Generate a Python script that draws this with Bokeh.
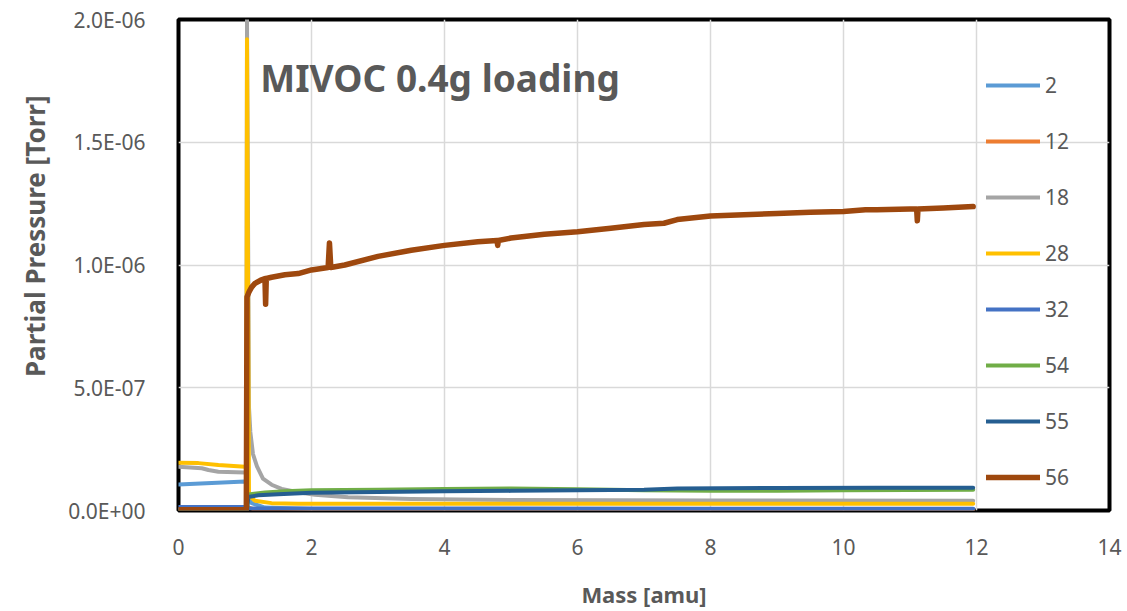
from bokeh.plotting import figure
from bokeh.models import Range1d, FixedTicker, Legend, LegendItem, Label, Title
from bokeh.embed import file_html
from bokeh.resources import INLINE

# ---- data (partial pressure in Torr vs. mass axis) ----
series_names = ["2", "12", "18", "28", "32", "54", "55", "56"]
series_colors = ["#5B9BD5", "#ED7D31", "#A5A5A5", "#FFC000",
                 "#4472C4", "#70AD47", "#255E91", "#9E480E"]

x_m2 = [0.0, 0.5, 1.0, 1.02, 1.05, 1.1, 1.3, 2.0, 6.0, 11.95]
y_m2 = [1.06e-7, 1.12e-7, 1.18e-7, 1.18e-7, 5.0e-8, 3.0e-8, 1.2e-8, 6e-9, 6e-9, 6e-9]

x_m12 = [0.0, 1.0, 1.03, 1.06, 1.12, 4.0, 11.95]
y_m12 = [3e-9, 3e-9, 3e-9, 1.2e-8, 6e-9, 3e-9, 3e-9]

x_m18 = [0.0, 0.35, 0.45, 0.6, 1.0, 1.02, 1.03, 1.06, 1.08, 1.12, 1.18,
         1.27, 1.4, 1.55, 1.8, 2.05, 2.55, 3.5, 5.0, 8.0, 11.95]
y_m18 = [1.78e-7, 1.72e-7, 1.65e-7, 1.58e-7, 1.55e-7, 1.55e-7, 2.0e-6, 4.2e-7,
         3.2e-7, 2.3e-7, 1.8e-7, 1.3e-7, 1.05e-7, 8.8e-8, 7.4e-8, 6.4e-8,
         5.4e-8, 4.7e-8, 4.3e-8, 4.1e-8, 4.0e-8]

x_m28 = [0.0, 0.3, 0.6, 1.0, 1.02, 1.03, 1.06, 1.15, 1.4, 1.8, 3.0, 6.0, 9.0, 11.95]
y_m28 = [1.95e-7, 1.93e-7, 1.85e-7, 1.78e-7, 1.78e-7, 1.92e-6, 6.0e-8, 4.0e-8,
         3.0e-8, 2.8e-8, 2.8e-8, 2.8e-8, 2.7e-8, 2.8e-8]

x_m32 = [0.0, 1.0, 1.03, 4.0, 8.0, 11.95]
y_m32 = [1.4e-8, 1.4e-8, 8e-9, 8e-9, 7e-9, 7e-9]

x_m54 = [0.0, 1.0, 1.03, 1.05, 1.3, 1.6, 2.0, 3.0, 4.0, 5.0, 6.0, 7.0, 8.0,
         9.0, 10.0, 11.95]
y_m54 = [2e-9, 2e-9, 2e-9, 6.5e-8, 7.3e-8, 7.8e-8, 8.2e-8, 8.5e-8, 8.8e-8,
         9.0e-8, 8.7e-8, 8.2e-8, 8.0e-8, 8.0e-8, 8.2e-8, 8.5e-8]

x_m55 = [0.0, 1.0, 1.03, 1.05, 1.2, 1.5, 2.0, 3.0, 4.0, 5.0, 6.0, 7.0, 7.5,
         9.0, 10.5, 11.95]
y_m55 = [2e-9, 2e-9, 2e-9, 5.5e-8, 6.2e-8, 6.6e-8, 7.2e-8, 7.5e-8, 7.8e-8,
         8.0e-8, 8.2e-8, 8.5e-8, 9.0e-8, 9.2e-8, 9.3e-8, 9.3e-8]

x_m56 = [0.0, 1.0, 1.02, 1.03, 1.06, 1.1, 1.15, 1.25, 1.3, 1.31, 1.32, 1.4,
         1.6, 1.8, 2.0, 2.25, 2.27, 2.29, 2.5, 3.0, 3.5, 4.0, 4.5, 4.79, 4.8,
         4.81, 5.0, 5.5, 6.0, 6.5, 7.0, 7.3, 7.5, 8.0, 8.5, 9.0, 9.5, 10.0,
         10.33, 10.5, 11.0, 11.1, 11.11, 11.12, 11.5, 11.95]
y_m56 = [3e-9, 3e-9, 3e-9, 8.7e-7, 8.9e-7, 9.1e-7, 9.25e-7, 9.4e-7, 9.45e-7,
         8.4e-7, 9.45e-7, 9.5e-7, 9.6e-7, 9.65e-7, 9.8e-7, 9.9e-7, 1.09e-6,
         9.9e-7, 1.0e-6, 1.035e-6, 1.06e-6, 1.08e-6, 1.095e-6, 1.1e-6, 1.08e-6,
         1.1e-6, 1.11e-6, 1.125e-6, 1.135e-6, 1.15e-6, 1.165e-6, 1.17e-6,
         1.185e-6, 1.2e-6, 1.205e-6, 1.21e-6, 1.215e-6, 1.218e-6, 1.225e-6,
         1.225e-6, 1.228e-6, 1.228e-6, 1.18e-6, 1.228e-6, 1.232e-6, 1.238e-6]

series_x = [x_m2, x_m12, x_m18, x_m28, x_m32, x_m54, x_m55, x_m56]
series_y = [y_m2, y_m12, y_m18, y_m28, y_m32, y_m54, y_m55, y_m56]

x_ticks = [0, 2, 4, 6, 8, 10, 12, 14]
y_ticks = [0.0, 5e-7, 1e-6, 1.5e-6, 2e-6]
y_tick_labels = ["0.0E+00", "5.0E-07", "1.0E-06", "1.5E-06", "2.0E-06"]

chart_title = "MIVOC 0.4g loading"
x_title = "Mass [amu]"
y_title = "Partial Pressure [Torr]"

FONT = "Noto Sans"
TEXT_GRAY = "#595959"

p = figure(width=1127, height=611, output_backend="svg", toolbar_location=None,
           x_range=Range1d(0, 14), y_range=Range1d(0, 2e-6))
p.min_border_left = 178
p.min_border_right = 18
p.min_border_top = 19
p.min_border_bottom = 100
p.background_fill_color = "white"
p.border_fill_color = "white"
p.outline_line_color = "black"
p.outline_line_width = 4

renderers = []
for name, color, xs, ys in zip(series_names, series_colors, series_x, series_y):
    lw = 5.5 if name == "56" else 4
    r = p.line(xs, ys, line_color=color, line_width=lw,
               line_join="round", line_cap="round")
    renderers.append(r)

# axes
p.xaxis.ticker = FixedTicker(ticks=x_ticks)
p.yaxis.ticker = FixedTicker(ticks=y_ticks)
p.yaxis.major_label_overrides = {t: s for t, s in zip(y_ticks, y_tick_labels)}
for ax in (p.xaxis[0], p.yaxis[0]):
    ax.axis_line_color = None
    ax.major_tick_line_color = None
    ax.minor_tick_line_color = None
    ax.major_label_text_font = FONT
    ax.major_label_text_font_size = "21px"
    ax.major_label_text_color = TEXT_GRAY
    ax.axis_label_text_font = FONT
    ax.axis_label_text_font_style = "bold"
    ax.axis_label_text_color = TEXT_GRAY
p.xaxis.axis_label = x_title
p.xaxis.axis_label_text_font_size = "22px"
p.xaxis.major_label_standoff = 22
p.xaxis.axis_label_standoff = 21
p.yaxis.major_label_standoff = 27

# y-axis title, set a little above the middle of the plotting area
p.add_layout(Title(text=y_title, align="right", offset=76, standoff=26,
                   text_font=FONT, text_font_size="26px",
                   text_font_style="bold", text_color=TEXT_GRAY), "left")

p.xgrid.ticker = FixedTicker(ticks=x_ticks)
p.ygrid.ticker = FixedTicker(ticks=y_ticks)
p.grid.grid_line_color = "#D9D9D9"
p.grid.grid_line_width = 1.5

# in-plot title
p.add_layout(Label(x=1.23, y=1.765e-6, text=chart_title, text_font=FONT,
                   text_font_size="37px", text_font_style="bold",
                   text_color=TEXT_GRAY, text_baseline="middle"))

# legend on the right edge of the plotting area
legend = Legend(items=[LegendItem(label=n, renderers=[r])
                       for n, r in zip(series_names, renderers)],
                location=(808, 19))
legend.background_fill_alpha = 0
legend.border_line_alpha = 0
legend.padding = 0
legend.margin = 0
legend.spacing = 28
legend.glyph_width = 54
legend.glyph_height = 28
legend.label_height = 28
legend.label_standoff = 5
legend.label_text_font = FONT
legend.label_text_font_size = "21px"
legend.label_text_color = TEXT_GRAY
p.add_layout(legend)

open("out.html", "w").write(file_html(p, INLINE))
